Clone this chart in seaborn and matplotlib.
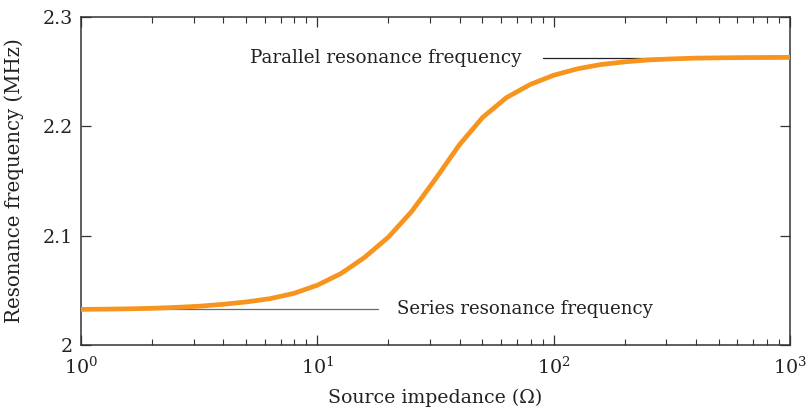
import numpy as np
import pandas as pd
import matplotlib
matplotlib.use("Agg")
import matplotlib.pyplot as plt
import seaborn as sns
from matplotlib.ticker import LogLocator, NullFormatter

# Data
impedance = [1, 1.26, 1.58, 2.0, 2.51, 3.16, 3.98, 5.01, 6.31, 7.94, 10, 12.6, 15.8,
             20.0, 25.1, 31.6, 39.8, 50.1, 63.1, 79.4, 100, 126, 158, 200, 251, 316,
             398, 631, 1000]
frequency = [2.0326, 2.0328, 2.0331, 2.0336, 2.0344, 2.0355, 2.0372, 2.0394, 2.0424,
             2.0472, 2.0547, 2.0654, 2.0799, 2.0987, 2.1222, 2.1517, 2.1827, 2.2082,
             2.2262, 2.2382, 2.2467, 2.2526, 2.2565, 2.2590, 2.2607, 2.2617, 2.2624,
             2.2629, 2.2631]
series_freq = 2.0328
parallel_freq = 2.2626
series_span = [1, 18]
parallel_span = [90, 1000]
y_ticks = [2.0, 2.1, 2.2, 2.3]
y_tick_labels = ["2", "2.1", "2.2", "2.3"]
x_ticks = [1, 10, 100, 1000]
x_tick_labels = [r"$10^0$", r"$10^1$", r"$10^2$", r"$10^3$"]

sns.set_theme(style="white")
plt.rcParams['font.family'] = ['DejaVu Serif']
plt.rcParams['mathtext.fontset'] = 'dejavuserif'

fig = plt.figure(figsize=(8.06, 4.13), dpi=100)
ax = fig.add_axes([0.1005, 0.1646, 0.8795, 0.7942])

df = pd.DataFrame({"impedance": impedance, "frequency": frequency})

ax.plot(series_span, [series_freq, series_freq], color="#6a6a6a", lw=0.9, zorder=2)
ax.plot(parallel_span, [parallel_freq, parallel_freq], color="#222222", lw=0.9, zorder=2)
sns.lineplot(data=df, x="impedance", y="frequency", ax=ax, color="#F7941D", lw=3.4,
             zorder=3)

ax.set_xscale("log")
ax.set_xlim(1, 1000)
ax.set_ylim(2.0, 2.3)
ax.set_xticks(x_ticks)
ax.set_xticklabels(x_tick_labels)
ax.xaxis.set_minor_locator(LogLocator(base=10, subs=np.arange(2, 10)))
ax.xaxis.set_minor_formatter(NullFormatter())
ax.set_yticks(y_ticks)
ax.set_yticklabels(y_tick_labels)

ax.tick_params(axis="both", which="major", direction="in", length=7, width=0.9,
               colors="#333333", labelcolor="#222222", labelsize=13.8,
               top=True, right=True, bottom=True, left=True)
ax.tick_params(axis="x", which="major", pad=8)
ax.tick_params(axis="y", which="major", pad=6)
ax.tick_params(axis="x", which="minor", direction="in", length=4.5, width=0.8,
               colors="#333333", top=True, bottom=True)
for s in ax.spines.values():
    s.set_color("#333333")
    s.set_linewidth(1.1)

ax.set_xlabel("Source impedance (Ω)", fontsize=13.6, color="#222222", labelpad=8)
ax.set_ylabel("Resonance frequency (MHz)", fontsize=14.2, color="#222222", labelpad=13)

ax.text(21.7, series_freq, "Series resonance frequency", fontsize=13.1,
        color="#222222", va="center", ha="left")
ax.text(73.5, parallel_freq, "Parallel resonance frequency", fontsize=13.2,
        color="#222222", va="center", ha="right")

fig.savefig("out.png", dpi=100)
